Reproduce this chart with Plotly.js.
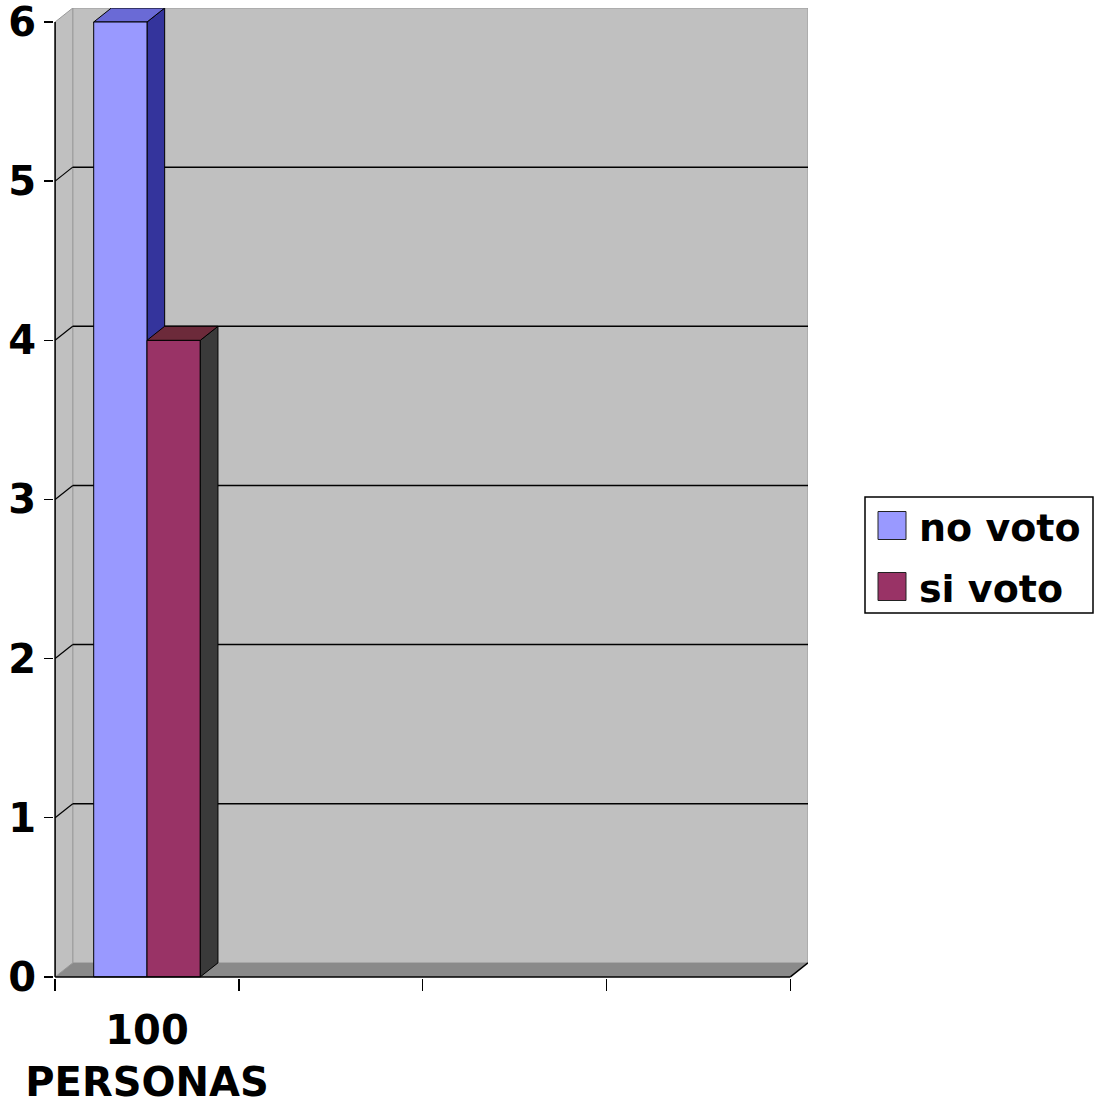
<!DOCTYPE html>
<html>
<head>
<meta charset="utf-8">
<script src="https://cdn.plot.ly/plotly-3.0.1.min.js"></script>
<style>html,body{margin:0;padding:0;background:#fff;}#chart{width:1094px;height:1105px;}</style>
</head>
<body>
<div id="chart"></div>
<script>
// ---- data ----
const categories = ['100<br>PERSONAS'];
const seriesNames = ['no voto', 'si voto'];
const noVoto = [6];
const siVoto = [4];
const yTickVals = [0, 1, 2, 3, 4, 5, 6];
const categorySlots = 4;

// ---- style ----
const frontColors = ['#9999ff', '#993366'];
const sideColors = ['#34349c', '#3a3a3a'];
const topColors = ['#6a6ad6', '#6c2a3a'];
const FONT = 'DejaVu Sans';
const series = [noVoto, siVoto];

const yMax = 6;
const dx = 0.096, dy = 0.088;          // 3D depth offset in data units
const barW = 0.29;
const xMin = -0.006, yMin = -0.007;

const M = {l: 54, r: 286, t: 8, b: 127};
const W = 1094, H = 1105;
const pw = W - M.l - M.r, ph = H - M.t - M.b;
const px2x = p => (p - M.l) / pw;
const py2y = p => (H - M.b - p) / ph;

const traces = series.map((vals, i) => ({
  type: 'bar',
  name: seriesNames[i],
  x: vals.map((v, c) => c + 0.5),
  y: vals,
  width: barW,
  offset: -barW + i * barW,
  marker: {color: frontColors[i], line: {color: '#000', width: 1}},
  showlegend: false,
  hoverinfo: 'y'
}));

const shapes = [];
const xEnd = categorySlots;
// back wall
shapes.push({type: 'rect', xref: 'x', yref: 'y', x0: dx, y0: dy, x1: xEnd + dx, y1: yMax + dy,
  fillcolor: '#c0c0c0', line: {color: '#9a9a9a', width: 1}, layer: 'below'});
// left wall
shapes.push({type: 'path', xref: 'x', yref: 'y', layer: 'below',
  path: `M0,0 L${dx},${dy} L${dx},${yMax + dy} L0,${yMax} Z`,
  fillcolor: '#c0c0c0', line: {color: '#9a9a9a', width: 1}});
// floor
shapes.push({type: 'path', xref: 'x', yref: 'y', layer: 'below',
  path: `M0,0 L${xEnd},0 L${xEnd + dx},${dy} L${dx},${dy} Z`,
  fillcolor: '#8a8a8a', line: {width: 0}});
// floor right slanted edge
shapes.push({type: 'line', xref: 'x', yref: 'y', layer: 'below', x0: xEnd, y0: 0, x1: xEnd + dx, y1: dy,
  line: {color: '#000', width: 1.5}});
// gridlines on back wall + slants on left wall
yTickVals.forEach(k => {
  if (k === 0 || k === yMax) return;
  shapes.push({type: 'line', xref: 'x', yref: 'y', layer: 'below', x0: dx, y0: k + dy, x1: xEnd + dx, y1: k + dy,
    line: {color: '#000', width: 1.5}});
  shapes.push({type: 'line', xref: 'x', yref: 'y', layer: 'below', x0: 0, y0: k, x1: dx, y1: k + dy,
    line: {color: '#000', width: 1.2}});
});
// 3D faces of bars
series.forEach((vals, i) => {
  vals.forEach((v, c) => {
    const x0 = c + 0.5 - barW + i * barW, x1 = x0 + barW;
    const layer = i === 0 ? 'below' : 'above';
    shapes.push({type: 'path', xref: 'x', yref: 'y', layer: layer,
      path: `M${x1},0 L${x1 + dx},${dy} L${x1 + dx},${v + dy} L${x1},${v} Z`,
      fillcolor: sideColors[i], line: {color: '#000', width: 1}});
    shapes.push({type: 'path', xref: 'x', yref: 'y', layer: layer,
      path: `M${x0},${v} L${x0 + dx},${v + dy} L${x1 + dx},${v + dy} L${x1},${v} Z`,
      fillcolor: topColors[i], line: {color: '#000', width: 1}});
  });
});
// axis lines (front plane)
shapes.push({type: 'line', xref: 'x', yref: 'y', layer: 'above', x0: 0, y0: 0, x1: 0, y1: yMax,
  line: {color: '#000', width: 1.5}});
shapes.push({type: 'line', xref: 'x', yref: 'y', layer: 'above', x0: 0, y0: 0, x1: xEnd, y1: 0,
  line: {color: '#000', width: 1.5}});

// custom legend (paper coordinates)
const annotations = [];
shapes.push({type: 'rect', xref: 'paper', yref: 'paper',
  x0: px2x(865), x1: px2x(1093), y0: py2y(613), y1: py2y(497),
  fillcolor: '#fff', line: {color: '#000', width: 1.5}});
const legendRows = [525.5, 586.5];
seriesNames.forEach((name, i) => {
  const cy = legendRows[i];
  shapes.push({type: 'rect', xref: 'paper', yref: 'paper',
    x0: px2x(878), x1: px2x(906), y0: py2y(cy + 14), y1: py2y(cy - 14),
    fillcolor: frontColors[i], line: {color: '#222', width: 1}});
  annotations.push({xref: 'paper', yref: 'paper', x: px2x(917), y: py2y(cy + 2),
    xanchor: 'left', yanchor: 'middle', showarrow: false, text: name,
    font: {family: FONT, size: 38, color: '#000', weight: 700}});
});

const layout = {
  width: W, height: H,
  margin: M,
  paper_bgcolor: '#fff', plot_bgcolor: '#fff',
  barmode: 'overlay',
  showlegend: false,
  xaxis: {
    range: [xMin, xEnd + dx],
    tickmode: 'array',
    tickvals: categories.map((c, i) => i + 0.5),
    ticktext: categories,
    ticks: '',
    showgrid: false, zeroline: false, showline: false,
    ticklabelstandoff: 25,
    tickfont: {family: FONT, size: 40, color: '#000', weight: 700},
    minor: {tickmode: 'array', tickvals: Array.from({length: categorySlots + 1}, (_, i) => i),
      ticks: 'outside', ticklen: 12, tickwidth: 1.5, tickcolor: '#000', showgrid: false},
    fixedrange: true
  },
  yaxis: {
    range: [yMin, yMax + dy],
    tickmode: 'array',
    tickvals: yTickVals,
    ticks: 'outside', ticklen: 9, tickwidth: 1.5, tickcolor: '#000',
    showgrid: false, zeroline: false, showline: false,
    ticklabelstandoff: 0,
    ticklabeloverflow: 'allow',
    tickfont: {family: FONT, size: 40, color: '#000', weight: 700},
    fixedrange: true
  },
  shapes: shapes,
  annotations: annotations
};

Plotly.newPlot('chart', traces, layout, {displayModeBar: false, staticPlot: true});
</script>
</body>
</html>
